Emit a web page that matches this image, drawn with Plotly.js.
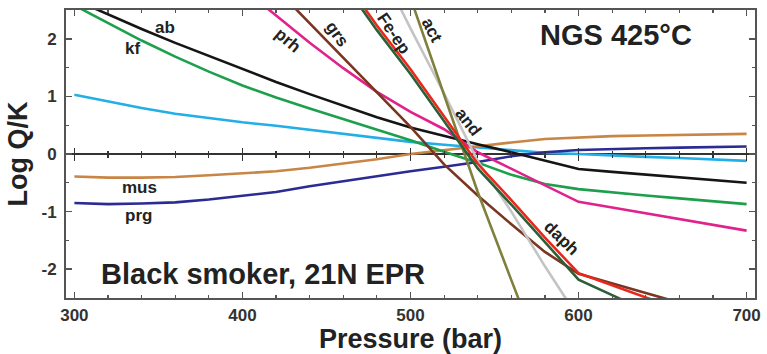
<!DOCTYPE html>
<html>
<head>
<meta charset="utf-8">
<script src="https://cdn.plot.ly/plotly-3.0.1.min.js"></script>
<style>
html,body{margin:0;padding:0;background:#fff;}
#chart{width:767px;height:354px;}
</style>
</head>
<body>
<div id="chart"></div>
<script>
// ---- Data ----
const pressure = [300,320,340,360,380,400,420,440,460,480,500,520,540,560,580,600,620,640,660,680,700];
const ab  = [2.68,2.42,2.17,1.93,1.70,1.47,1.25,1.04,0.84,0.64,0.46,0.31,0.17,0.03,-0.11,-0.26,-0.31,-0.36,-0.41,-0.46,-0.50];
const kf  = [2.58,2.27,1.97,1.69,1.43,1.19,0.98,0.79,0.61,0.42,0.24,0.04,-0.15,-0.36,-0.52,-0.61,-0.67,-0.72,-0.77,-0.82,-0.87];
const cyanSeries = [1.03,0.91,0.80,0.70,0.62,0.55,0.49,0.42,0.35,0.28,0.21,0.16,0.11,0.06,0.02,0.00,-0.03,-0.05,-0.07,-0.10,-0.12];
const mus = [-0.39,-0.41,-0.41,-0.40,-0.37,-0.34,-0.30,-0.24,-0.17,-0.09,0.00,0.07,0.13,0.20,0.26,0.29,0.31,0.32,0.33,0.34,0.35];
const prg = [-0.85,-0.87,-0.86,-0.84,-0.79,-0.73,-0.66,-0.56,-0.47,-0.38,-0.30,-0.22,-0.14,-0.04,0.03,0.07,0.09,0.10,0.11,0.12,0.13];

const prhP = [400,420,440,460,480,500,520,540,560,580,600,620,640,660,680,700];
const prh  = [2.88,2.41,1.93,1.49,1.08,0.73,0.43,0.03,-0.26,-0.55,-0.83,-0.93,-1.03,-1.12,-1.23,-1.33];

const grsP = [420,440,460,480,500,520,540,560,580,600,620,640,660];
const grs  = [2.87,2.27,1.67,1.07,0.47,-0.18,-0.72,-1.22,-1.70,-2.08,-2.25,-2.42,-2.58];

const feepP = [460,480,500,520,540,560,580,600,620,640];
const feep  = [2.97,2.15,1.39,0.57,-0.25,-0.88,-1.53,-2.18,-2.45,-2.72];

const daphP = [460,480,500,520,540,560,580,600,620,640,660];
const daph  = [3.05,2.23,1.47,0.65,-0.17,-0.80,-1.45,-2.07,-2.28,-2.49,-2.70];

const andP = [480,500,520,540,560,580,600];
const andS = [3.35,2.18,1.05,-0.12,-1.00,-1.95,-2.85];

const actP = [500,520,540,560,580];
const act  = [2.71,1.03,-0.66,-2.19,-3.70];

const xTickStep = 100, xMinorStep = 20;
const yTickStep = 1, yMinorStep = 0.5;

// ---- Styling ----
const FONT = 'Liberation Sans, Arial, Helvetica, sans-serif';
const FRAME = '#555555';
const W = 2.6;

function line(x, y, color, name, width) {
  return {type:'scatter', mode:'lines', x:x, y:y, name:name,
          line:{color:color, width:width||W}, hoverinfo:'skip', showlegend:false};
}

const traces = [
  line(pressure, cyanSeries, '#22aee6', 'cyan'),
  line(pressure, mus, '#c88545', 'mus'),
  line(pressure, prg, '#2b2b94', 'prg'),
  line(pressure, ab, '#151515', 'ab'),
  line(pressure, kf, '#1d9f4c', 'kf'),
  line(prhP, prh, '#e0228c', 'prh'),
  line(grsP, grs, '#7a3620', 'grs'),
  line(andP, andS, '#c4c4c4', 'and'),
  line(actP, act, '#80803e', 'act'),
  line(daphP, daph, '#e8281e', 'daph'),
  line(feepP, feep, '#2d5f37', 'Fe-ep')
];

function lab(text, x, y, angle, size) {
  return {text:text, x:x, y:y, xref:'x', yref:'y', showarrow:false,
          textangle:angle||0,
          font:{family:FONT, size:size||17, color:'#222', weight:700}};
}

const annotations = [
  lab('ab', 354, 2.20),
  lab('kf', 334.5, 1.83),
  lab('prh', 427, 1.97, 40),
  lab('grs', 456, 2.09, 55),
  lab('Fe-ep', 490, 2.09, 56),
  lab('act', 512.7, 2.14, 62),
  lab('and', 534, 0.56, 52),
  lab('daph', 590, -1.47, 44),
  lab('mus', 338.6, -0.59),
  lab('prg', 338, -1.07),
  lab('NGS 425°C', 622, 2.06, 0, 29),
  lab('Black smoker, 21N EPR', 412, -2.08, 0, 29)
];

const tickFont = {family:FONT, size:17, color:'#333', weight:700};
const titleFont = {family:FONT, size:27, color:'#222', weight:700};

const layout = {
  width:767, height:354,
  margin:{l:66, r:12, t:10, b:56},
  paper_bgcolor:'#fff', plot_bgcolor:'#fff',
  showlegend:false,
  xaxis:{
    range:[295,705], tick0:300, dtick:xTickStep,
    showline:true, linecolor:FRAME, linewidth:2, mirror:'ticks',
    ticks:'inside', ticklen:6, tickwidth:1.5, tickcolor:FRAME,
    minor:{dtick:xMinorStep, ticks:'inside', ticklen:3, tickwidth:1.2, tickcolor:FRAME},
    showgrid:false, zeroline:false,
    tickfont:tickFont, ticklabelstandoff:1,
    title:{text:'Pressure (bar)', font:titleFont, standoff:1}
  },
  xaxis2:{
    overlaying:'x', matches:'x', anchor:'free', position:0.5, side:'bottom',
    tick0:300, dtick:xTickStep, showline:false, showticklabels:false,
    ticks:'inside', ticklen:6, tickwidth:1.4, tickcolor:'#333',
    minor:{dtick:xMinorStep, ticks:'inside', ticklen:3, tickwidth:1.2, tickcolor:'#333'},
    showgrid:false, zeroline:false
  },
  xaxis3:{
    overlaying:'x', matches:'x', anchor:'free', position:0.5, side:'bottom',
    tick0:300, dtick:xTickStep, showline:false, showticklabels:false,
    ticks:'outside', ticklen:6, tickwidth:1.4, tickcolor:'#333',
    minor:{dtick:xMinorStep, ticks:'outside', ticklen:3, tickwidth:1.2, tickcolor:'#333'},
    showgrid:false, zeroline:false
  },
  yaxis:{
    range:[-2.5,2.5], tick0:0, dtick:yTickStep,
    showline:true, linecolor:FRAME, linewidth:2, mirror:'ticks',
    ticks:'inside', ticklen:6, tickwidth:1.5, tickcolor:FRAME,
    minor:{dtick:yMinorStep, ticks:'inside', ticklen:3, tickwidth:1.2, tickcolor:FRAME},
    showgrid:false,
    zeroline:true, zerolinecolor:'#333', zerolinewidth:1.6,
    tickfont:tickFont, ticklabelstandoff:4,
    labelalias:{'\u22121':'-1','\u22122':'-2'},
    title:{text:'Log Q/K', font:titleFont, standoff:6}
  },
  annotations:annotations
};

// invisible helpers so the tick-only overlay axes are drawn
traces.push({type:'scatter', mode:'none', x:[300], y:[0], xaxis:'x2', yaxis:'y', hoverinfo:'skip', showlegend:false});
traces.push({type:'scatter', mode:'none', x:[300], y:[0], xaxis:'x3', yaxis:'y', hoverinfo:'skip', showlegend:false});

Plotly.newPlot('chart', traces, layout, {staticPlot:true, displayModeBar:false});
</script>
</body>
</html>
